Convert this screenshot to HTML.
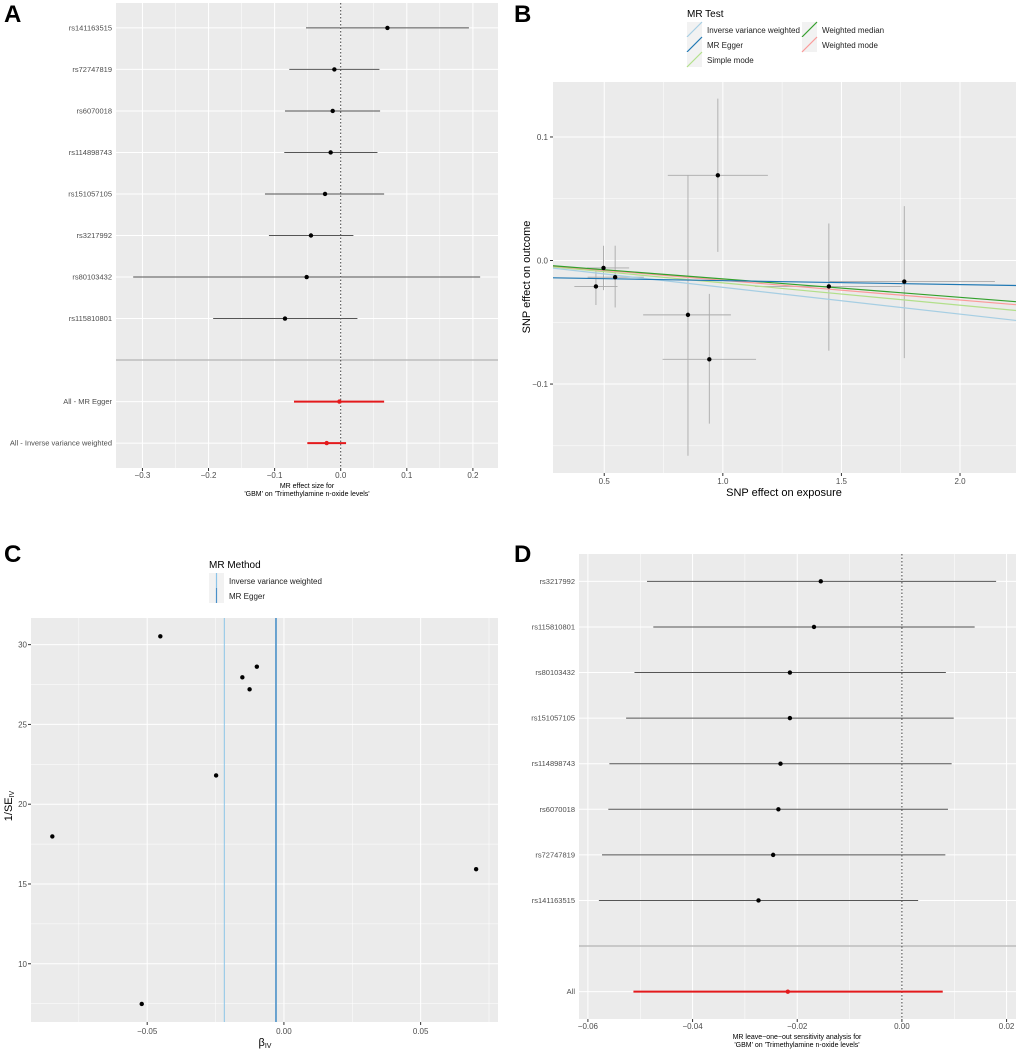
<!DOCTYPE html>
<html><head><meta charset="utf-8"><style>
html,body{margin:0;padding:0;background:#fff;}
svg{display:block;font-family:"Liberation Sans",Arial,sans-serif;}
</style></head><body>
<svg id="fig" width="1020" height="1052" viewBox="0 0 1020 1052"></svg>
<script>
// ---------- Panel A data (single SNP forest) ----------
const aLabels = ["rs141163515","rs72747819","rs6070018","rs114898743","rs151057105","rs3217992","rs80103432","rs115810801"];
const aEst = [0.0707,-0.0096,-0.0121,-0.0152,-0.0237,-0.045,-0.0515,-0.0843];
const aLo  = [-0.0525,-0.0778,-0.0843,-0.0854,-0.1146,-0.1086,-0.314,-0.193];
const aHi  = [0.194,0.0586,0.0596,0.0556,0.0657,0.0192,0.211,0.0253];
const aSumLabels = ["All - MR Egger","All - Inverse variance weighted"];
const aSumEst = [-0.002,-0.0212];
const aSumLo = [-0.0707,-0.0505];
const aSumHi = [0.0657,0.0081];
const aTicks = [-0.3,-0.2,-0.1,0.0,0.1,0.2];
const aTickLabels = ["-0.3","-0.2","-0.1","0.0","0.1","0.2"];

// ---------- Panel B data (scatter) ----------
const bX = [0.979,0.853,0.943,0.465,0.497,0.546,1.447,1.765];
const bY = [0.069,-0.044,-0.080,-0.021,-0.006,-0.0135,-0.021,-0.017];
const bXlo = [0.768,0.664,0.746,0.374,0.428,0.43,1.135,1.45];
const bXhi = [1.19,1.034,1.14,0.556,0.605,0.667,1.754,2.147];
const bYlo = [0.007,-0.158,-0.132,-0.036,-0.024,-0.038,-0.073,-0.079];
const bYhi = [0.131,0.069,-0.027,-0.0075,0.012,0.012,0.030,0.044];
const bMethods = ["Inverse variance weighted","MR Egger","Simple mode","Weighted median","Weighted mode"];
const bSlopes = [-0.0217,-0.0032,-0.0181,-0.0149,-0.016];
const bIntercepts = [0,-0.0131,0,0,0];
const bXTicks = [0.5,1.0,1.5,2.0];
const bYTicks = [-0.1,0.0,0.1];

// ---------- Panel C data (funnel) ----------
const cBeta = [-0.0847,-0.0452,-0.052,-0.0248,-0.0152,-0.01255,-0.0099,0.0703];
const cInvSE = [17.98,30.52,7.48,21.8,27.95,27.2,28.62,15.93];
const cMethods = ["Inverse variance weighted","MR Egger"];
const cMethodBeta = [-0.0218,-0.0029];
const cXTicks = [-0.05,0.0,0.05];
const cYTicks = [10,15,20,25,30];

// ---------- Panel D data (leave-one-out) ----------
const dLabels = ["rs3217992","rs115810801","rs80103432","rs151057105","rs114898743","rs6070018","rs72747819","rs141163515"];
const dEst = [-0.0155,-0.0168,-0.0214,-0.0214,-0.0232,-0.0236,-0.0246,-0.0274];
const dLo = [-0.0487,-0.0475,-0.0511,-0.0527,-0.0559,-0.0561,-0.0573,-0.0579];
const dHi = [0.018,0.0139,0.0084,0.0099,0.0095,0.0088,0.0083,0.0031];
const dAllEst = [-0.0218];
const dAllLo = [-0.0513];
const dAllHi = [0.0078];
const dTicks = [-0.06,-0.04,-0.02,0.00,0.02];

const NS="http://www.w3.org/2000/svg";
const fig=document.getElementById('fig');
function mk(tag,attrs,parent){const e=document.createElementNS(NS,tag);for(const k in attrs)e.setAttribute(k,attrs[k]);(parent||fig).appendChild(e);return e;}
function lin(d0,d1,r0,r1){return v=>r0+(v-d0)*(r1-r0)/(d1-d0);}
function txt(s,x,y,size,anchor,fill,parent,extra){const t=mk('text',Object.assign({x:x,y:y,'font-size':size,'text-anchor':anchor||'start',fill:fill||'#4d4d4d'},extra||{}),parent);t.textContent=s;return t;}
function panelBg(x0,y0,x1,y1,name){const r=mk('rect',{x:x0,y:y0,width:x1-x0,height:y1-y0,fill:'#ebebeb'});return r;}
function vgrid(sx,vals,y0,y1,w,g){vals.forEach(v=>mk('line',{x1:sx(v),x2:sx(v),y1:y0,y2:y1,stroke:'#fff','stroke-width':w},g));}
function hgrid(sy,vals,x0,x1,w,g){vals.forEach(v=>mk('line',{x1:x0,x2:x1,y1:sy(v),y2:sy(v),stroke:'#fff','stroke-width':w},g));}
function letter(s,x,y){const t=txt(s,x,y,24,'start','#000',fig,{'font-weight':'bold'});}

// ================= Panel A =================
(function(){
 const g=mk('g',{});
 const X0=116,X1=498,Y0=3,Y1=468;
 const sx=lin(-0.340,0.238,X0,X1), sy=lin(-0.6,10.6,Y0,Y1);
 panelBg(X0,Y0,X1,Y1,'panel-a-background');
 fig.appendChild(g);
 vgrid(sx,[-0.25,-0.15,-0.05,0.05,0.15],Y0,Y1,0.5,g);
 vgrid(sx,aTicks,Y0,Y1,1,g);
 const rows=[0,1,2,3,4,5,6,7,9,10];
 hgrid(sy,rows,X0,X1,1,g);
 mk('line',{x1:X0,x2:X1,y1:sy(8),y2:sy(8),stroke:'#bdbdbd','stroke-width':1.5},g);
 mk('line',{x1:sx(0),x2:sx(0),y1:Y0,y2:Y1,stroke:'#444','stroke-width':1,'stroke-dasharray':'1.5,2'},g);
 aLabels.forEach((lab,i)=>{
  const l=mk('line',{x1:sx(aLo[i]),x2:sx(aHi[i]),y1:sy(i),y2:sy(i),stroke:'#555','stroke-width':1},g);
  
  const c=mk('circle',{cx:sx(aEst[i]),cy:sy(i),r:2.2,fill:'#000'},g);
  
  const t=txt(lab,112,sy(i)+2.5,7.5,'end','#4d4d4d',g);
 });
 aSumLabels.forEach((lab,j)=>{
  const i=9+j;
  const l=mk('line',{x1:sx(aSumLo[j]),x2:sx(aSumHi[j]),y1:sy(i),y2:sy(i),stroke:'#e41a1c','stroke-width':2},g);
  
  const c=mk('circle',{cx:sx(aSumEst[j]),cy:sy(i),r:2.2,fill:'#e41a1c'},g);
  
  const t=txt(lab,112,sy(i)+2.5,7.5,'end','#4d4d4d',g);
 });
 aTicks.forEach((v,k)=>{mk('line',{x1:sx(v),x2:sx(v),y1:Y1,y2:Y1+3,stroke:'#333'},g);
  const t=txt(aTickLabels[k].replace('-','\u2212'),sx(v),478,8,'middle','#4d4d4d',g);});
 const t1=txt('MR effect size for',307,488,7,'middle','#000',g);
 txt("'GBM' on 'Trimethylamine n-oxide levels'",307,496,7,'middle','#000',g);
})();
letter('A',4,22);

// ================= Panel B =================
(function(){
 const g=mk('g',{});
 const X0=553,X1=1016,Y0=82,Y1=473;
 const sx=lin(0.284,2.236,X0,X1), sy=lin(0.1445,-0.172,Y0,Y1);
 panelBg(X0,Y0,X1,Y1,'panel-b-background');
 fig.appendChild(g);
 vgrid(sx,[0.75,1.25,1.75],Y0,Y1,0.5,g);hgrid(sy,[-0.15,-0.05,0.05],X0,X1,0.5,g);
 vgrid(sx,bXTicks,Y0,Y1,1,g);hgrid(sy,bYTicks,X0,X1,1,g);
 bX.forEach((x,i)=>{
  const v=mk('line',{x1:sx(x),x2:sx(x),y1:sy(bYlo[i]),y2:sy(bYhi[i]),stroke:'#aaa','stroke-width':0.9},g);
  
  const h=mk('line',{x1:sx(bXlo[i]),x2:sx(bXhi[i]),y1:sy(bY[i]),y2:sy(bY[i]),stroke:'#aaa','stroke-width':0.9},g);
  
 });
 const cols=['#a6cee3','#1f78b4','#b2df8a','#33a02c','#fb9a99'];
 const order=[0,2,4,3,1];
 order.forEach(m=>{
  const xa=0.284,xb=2.236;
  const l=mk('line',{x1:sx(xa),x2:sx(xb),y1:sy(bIntercepts[m]+bSlopes[m]*xa),y2:sy(bIntercepts[m]+bSlopes[m]*xb),stroke:cols[m],'stroke-width':1.2},g);
  
 });
 bX.forEach((x,i)=>{const c=mk('circle',{cx:sx(x),cy:sy(bY[i]),r:2.2,fill:'#000'},g);});
 bXTicks.forEach(v=>{mk('line',{x1:sx(v),x2:sx(v),y1:Y1,y2:Y1+3,stroke:'#333'},g);const t=txt(v.toFixed(1),sx(v),484,8,'middle','#4d4d4d',g);});
 bYTicks.forEach(v=>{mk('line',{x1:X0-3,x2:X0,y1:sy(v),y2:sy(v),stroke:'#333'},g);const t=txt(v.toFixed(1).replace('-','\u2212'),548,sy(v)+3,8,'end','#4d4d4d',g);});
 const xt=txt('SNP effect on exposure',784,496,11,'middle','#000',g);
 const yt=txt('SNP effect on outcome',0,0,11,'middle','#000',g,{transform:'translate(530,277) rotate(-90)'});
 const lg=mk('g',{},g);
 txt('MR Test',687,17,10,'start','#000',lg);
 const pos=[[687,22],[687,37],[687,52],[802,22],[802,37]];
 bMethods.forEach((m,i)=>{const [x,y]=pos[i];
  mk('rect',{x:x,y:y,width:15,height:15,fill:'#f2f2f2'},lg);
  mk('line',{x1:x,y1:y+15,x2:x+15,y2:y,stroke:cols[i],'stroke-width':1.2},lg);
  const t=txt(m,x+20,y+11,8,'start','#222',lg);});
})();
letter('B',514,22);

// ================= Panel C =================
(function(){
 const g=mk('g',{});
 const X0=31,X1=498,Y0=618,Y1=1022;
 const sx=lin(-0.0925,0.0783,X0,X1), sy=lin(31.67,6.35,Y0,Y1);
 panelBg(X0,Y0,X1,Y1,'panel-c-background');
 fig.appendChild(g);
 vgrid(sx,[-0.075,-0.025,0.025,0.075],Y0,Y1,0.5,g);hgrid(sy,[7.5,12.5,17.5,22.5,27.5],X0,X1,0.5,g);
 vgrid(sx,cXTicks,Y0,Y1,1,g);hgrid(sy,cYTicks,X0,X1,1,g);
 const cols=['#a6cee3','#1f78b4'];
 cMethodBeta.forEach((b,i)=>{const l=mk('line',{x1:sx(b),x2:sx(b),y1:Y0,y2:Y1,stroke:i?'#4a90c8':'#8cc4e8','stroke-width':i?1.6:1},g);});
 cBeta.forEach((b,i)=>{const c=mk('circle',{cx:sx(b),cy:sy(cInvSE[i]),r:2.2,fill:'#000'},g);});
 cXTicks.forEach(v=>{mk('line',{x1:sx(v),x2:sx(v),y1:Y1,y2:Y1+3,stroke:'#333'},g);const t=txt(v.toFixed(2).replace('-','\u2212'),sx(v),1034,8,'middle','#4d4d4d',g);});
 cYTicks.forEach(v=>{mk('line',{x1:X0-3,x2:X0,y1:sy(v),y2:sy(v),stroke:'#333'},g);const t=txt(String(v),27,sy(v)+3,8,'end','#4d4d4d',g);});
 const xt=mk('text',{x:265,y:1046,'font-size':11,'text-anchor':'middle',fill:'#000'},g);xt.innerHTML='β<tspan font-size="7" dy="2">IV</tspan>';
 const yt=mk('text',{'font-size':11,'text-anchor':'middle',fill:'#000',transform:'translate(12,806) rotate(-90)'},g);yt.innerHTML='1/SE<tspan font-size="7" dy="2">IV</tspan>';
 const lg=mk('g',{},g);
 txt('MR Method',209,568,10,'start','#000',lg);
 cMethods.forEach((m,i)=>{const y=573+i*15;
  mk('rect',{x:209,y:y,width:15,height:15,fill:'#f2f2f2'},lg);
  mk('line',{x1:216.5,x2:216.5,y1:y,y2:y+15,stroke:i?'#4a90c8':'#8cc4e8','stroke-width':1.2},lg);
  const t=txt(m,229,y+11,8,'start','#222',lg);});
})();
letter('C',4,562);

// ================= Panel D =================
(function(){
 const g=mk('g',{});
 const X0=579,X1=1016,Y0=554,Y1=1019;
 const sx=lin(-0.0617,0.0218,X0,X1), sy=lin(-0.6,9.6,Y0,Y1);
 panelBg(X0,Y0,X1,Y1,'panel-d-background');
 fig.appendChild(g);
 vgrid(sx,[-0.05,-0.03,-0.01,0.01],Y0,Y1,0.5,g);
 vgrid(sx,dTicks,Y0,Y1,1,g);
 hgrid(sy,[0,1,2,3,4,5,6,7,9],X0,X1,1,g);
 mk('line',{x1:X0,x2:X1,y1:sy(8),y2:sy(8),stroke:'#bdbdbd','stroke-width':1.5},g);
 mk('line',{x1:sx(0),x2:sx(0),y1:Y0,y2:Y1,stroke:'#444','stroke-width':1,'stroke-dasharray':'1.5,2'},g);
 dLabels.forEach((lab,i)=>{
  const l=mk('line',{x1:sx(dLo[i]),x2:sx(dHi[i]),y1:sy(i),y2:sy(i),stroke:'#555','stroke-width':1},g);
  
  const c=mk('circle',{cx:sx(dEst[i]),cy:sy(i),r:2.2,fill:'#000'},g);
  
  const t=txt(lab,575,sy(i)+2.5,7.5,'end','#4d4d4d',g);
 });
 const la=mk('line',{x1:sx(dAllLo[0]),x2:sx(dAllHi[0]),y1:sy(9),y2:sy(9),stroke:'#e41a1c','stroke-width':2},g);
 
 const ca=mk('circle',{cx:sx(dAllEst[0]),cy:sy(9),r:2.2,fill:'#e41a1c'},g);
 
 txt('All',575,sy(9)+2.5,7.5,'end','#4d4d4d',g);
 dTicks.forEach(v=>{mk('line',{x1:sx(v),x2:sx(v),y1:Y1,y2:Y1+3,stroke:'#333'},g);const t=txt(v.toFixed(2).replace('-','\u2212'),sx(v),1029,8,'middle','#4d4d4d',g);});
 const t1=txt('MR leave\u2212one\u2212out sensitivity analysis for',797,1039,7,'middle','#000',g);
 txt("'GBM' on 'Trimethylamine n-oxide levels'",797,1047,7,'middle','#000',g);
})();
letter('D',514,562);
</script>
</body></html>
